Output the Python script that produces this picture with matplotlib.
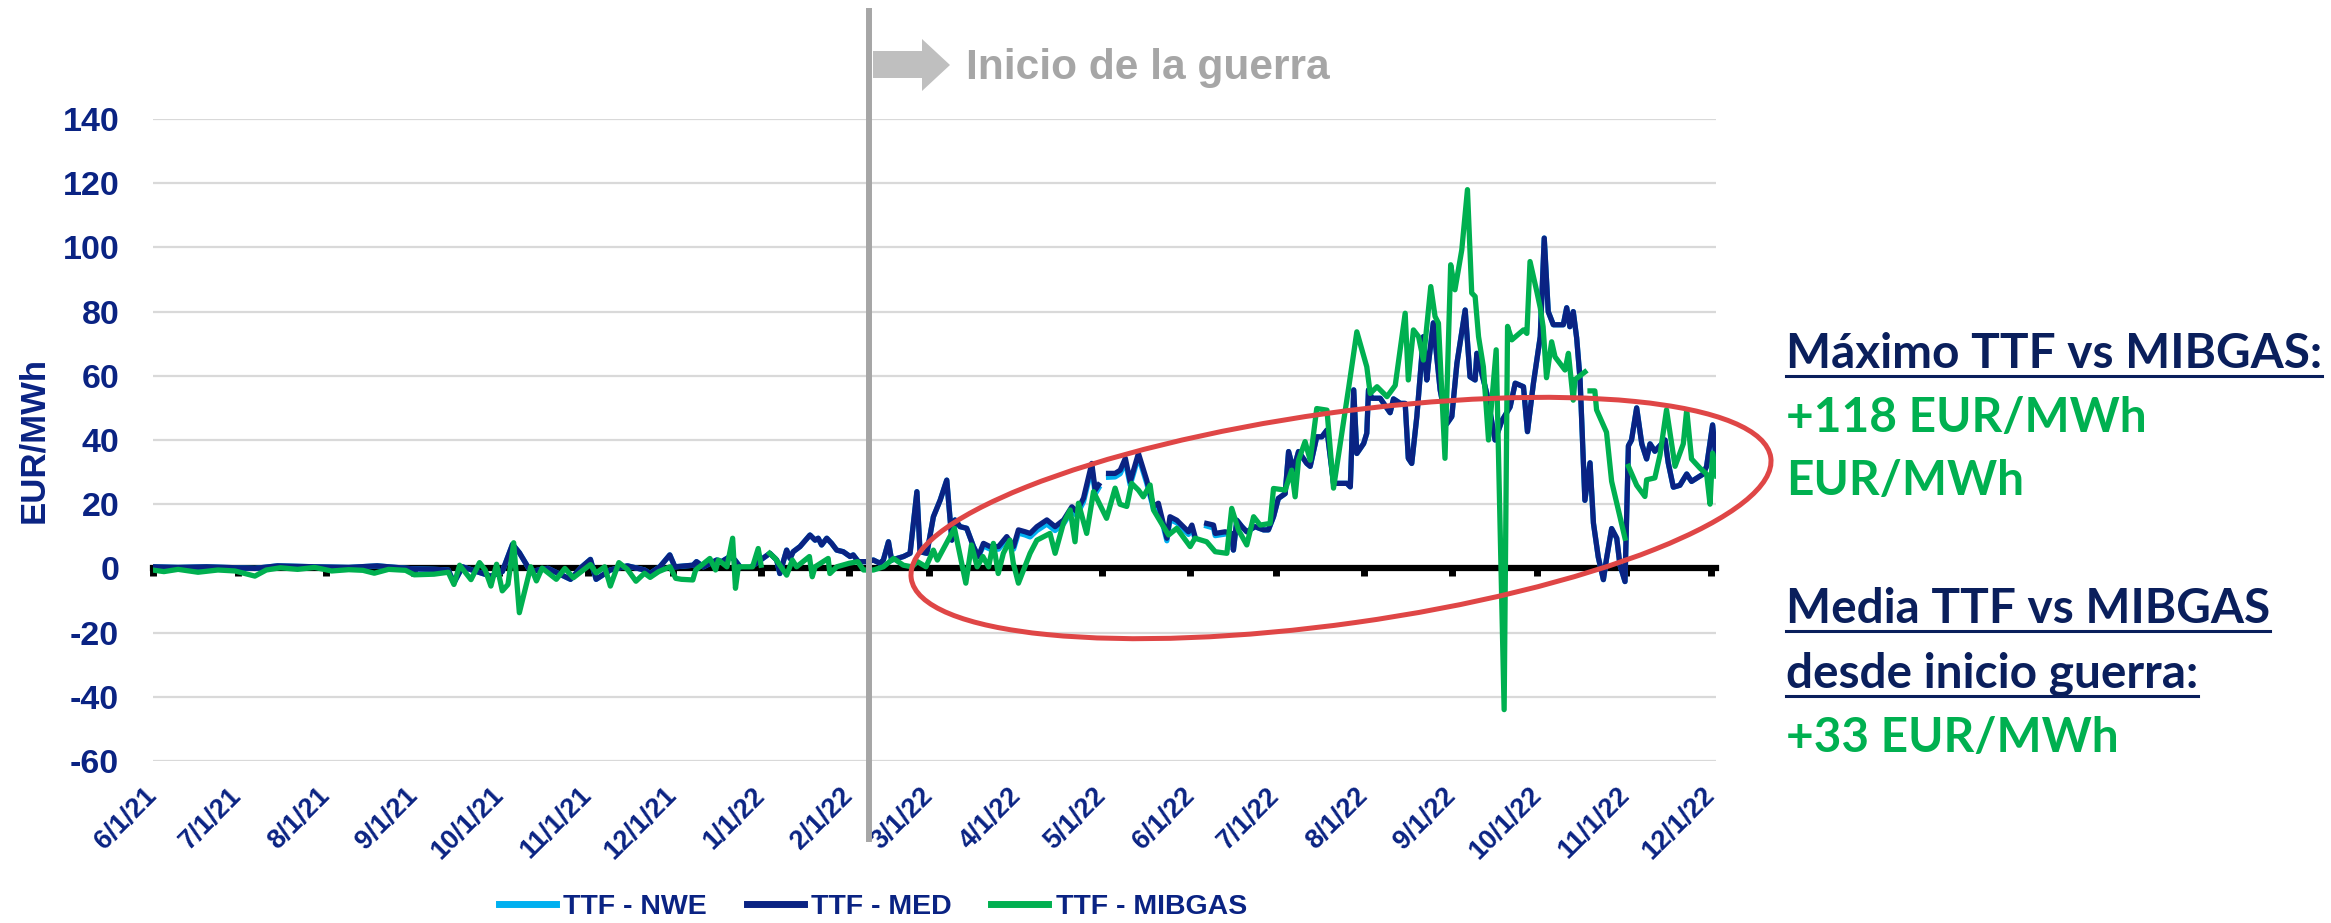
import numpy as np
import matplotlib
matplotlib.use('Agg')
import matplotlib.pyplot as plt
import matplotlib.dates as mdates
from matplotlib.patches import Ellipse, Polygon
from matplotlib.lines import Line2D
from matplotlib.transforms import Affine2D

nan = np.nan

# days counted from 2021-05-31
mib_day = [1, 5, 10, 17, 24, 30, 37, 41, 46, 52, 58, 64, 70, 75, 79, 84, 90, 93, 100, 105,
           107, 109, 113, 116, 118, 120, 122, 124, 126, 128, 130, 134, 136, 138, 143, 146, 149, 155, 157, 160,
           162, 165, 168, 171, 174, 176, 179, 183, 185, 187, 191, 192, 197, 199, 200, 203, 205, 206, 207, 212,
           214, 215, 216.5, 218, 220, 224, 226, 227.5, 232, 233, 234, 238.6, 239.2, 241.6, 246, 249, 251, 254.5, 258, 261.6,
           265, 268, 270, 273, 275.6, 277, 283, 287, 289, 291, 293, 295, 296.7, 298.4, 300.2, 302.5, 303.7, 305.5, 309.6, 312,
           316.6, 318.4, 321.3, 323.7, 325.4, 326.6, 329.5, 331.9, 336.5, 339.5, 341.2, 343.6, 345.3, 347.7, 349.4, 351.8, 353, 356.5, 358.3, 361.2,
           365.9, 367.6, 371.7, 374.7, 378.8, 380.5, 382.9, 385.8, 388.2, 390.5, 394, 395.2, 399.3, 401.6, 402.8, 404, 406.3, 408.1, 410.4, 414,
           416.3, 421.6, 424.5, 428, 429.2, 431.6, 435.1, 438, 441.5, 442.6, 444.4, 446.2, 447.9, 450.5, 452, 453.2, 455.5, 457.5, 459, 461.4,
           463.4, 464.9, 466.1, 467.3, 469, 470.8, 472, 473.5, 476.3, 477.5, 479, 483.1, 484.3, 485.4, 487.8, 489, 490, 491.2, 493, 494.2,
           497.7, 498.9, 500.6, 501.2, 504.7, 505.5, 506.5, 508.2, 508.8, 512.3, 514.1, 518.8, 519.4, 520, 522.9, 525.8, 526.4, 529.3, 531.1, 533.4,
           534.6, 536.4, 539.3, 540.5, 542.2, 545.2, 547.5, 548.7, 549.6, 551]
mib_val = [-0.5, -1.0, -0.3, -1.2, -0.5, -0.8, -2.4, -0.5, 0.2, -0.3, 0.3, -0.8, -0.4, -0.6, -1.5, -0.3, -0.6, -2.0, -1.8, -1.2,
           -5.0, 1.0, -3.5, 1.8, -0.5, -5.5, 1.3, -7.0, -5.0, 8.0, -13.8, 0.5, -3.9, 0.1, -3.4, 0.0, -2.9, 1.2, -1.4, 0.5,
           -5.5, 1.8, -0.3, -4.0, -1.5, -2.8, -1.0, 0.5, -3.1, -3.4, -3.6, -0.5, 3.1, -0.5, 2.6, 0.5, 9.4, -6.2, 0.5, 0.5,
           6.2, 1.0, nan, 4.7, 3.1, -2.1, 2.6, 0.5, 3.7, -2.6, 0.5, 3.1, -1.6, 0.5, 1.6, 2.1, -0.5, -0.5, 0.5, 3.1,
           1.0, 0.5, 2.1, 0.5, 5.7, 2.6, 12.5, -4.6, 7.3, 0.5, 3.7, 0.5, 7.8, -1.6, 4.7, 8.8, 1.6, -4.6, 4.7, 8.8,
           10.9, 4.7, 14.0, 18.2, 8.3, 20.3, 10.9, 23.9, 15.6, 25.0, 20.0, 19.3, 26.5, 24.4, 22.3, 26.0, 18.2, 13.0, 10.4, 12.5,
           6.8, 9.4, 8.3, 5.2, 4.7, 18.7, 11.9, 7.3, 16.1, 13.5, 14.0, 24.9, 24.4, 30.6, 22.3, 33.7, 39.5, 33.7, 49.8, 49.3,
           25.0, 56.1, 73.7, 62.8, 54.5, 56.6, 53.5, 57.0, 79.5, 58.7, 74.3, 72.2, 64.9, 87.8, 78.5, 76.4, 34.3, 94.6, 86.8, 99.2,
           118.0, 85.8, 84.7, 72.2, 62.8, 40.0, 52.6, 68.1, -44.0, 75.4, 71.2, 74.3, 73.2, 95.6, 86.2, 81.2, 75.3, 59.4, 70.6, 65.9,
           61.8, 67.0, 52.4, 58.8, 61.2, nan, 55.3, 55.3, 49.4, 42.4, 27.1, 9.4, nan, 31.8, 25.9, 22.4, 27.6, 28.2, 35.3, 49.4,
           42.4, 31.8, 38.8, 49.4, 34.1, 31.2, 29.4, 20.0, 35.9, 28.8]

med_day = [1, 10, 20, 30, 37, 45, 58, 70, 80, 92, 100, 105, 107, 110, 115, 120, 124, 127.6, 130, 134,
           140, 148, 152, 155, 157, 162, 168, 174, 176, 179.4, 182.9, 184.7, 191.1, 192.3, 194.7, 199.4, 201.1, 204.1, 205.8, 207.6,
           210, 212.3, 218.1, 220.5, 221.6, 224, 225.2, 226.3, 228.7, 232.2, 234, 235.1, 236.3, 238.1, 239.8, 241.6, 243.9, 246.3, 247.4, 249.2,
           252.1, 254.5, 256.8, 258, 259.8, 260.9, 265.1, 267.4, 269.8, 270.9, 273.3, 275.6, 278, 280.3, 282.1, 283.2, 285, 287.3, 289.7, 291.4,
           293.2, 295.5, 298.5, 301.4, 303.8, 305.5, 307.9, 309.6, 312, 315.5, 318.4, 321.4, 324.3, 326, 328.4, 331.3, 332.5, 333.7, 335.5, 337.2,
           339.5, 341.3, 343.1, 344.8, 347.7, 350.6, 353, 354.7, 357.7, 358.8, 361.2, 363.5, 365.3, 366.5, 367.6, 369.5, 371.7, 374.1, 374.7, 378.2,
           380.5, 381.1, 382.3, 384.1, 385.8, 388.7, 391.7, 393.4, 395.2, 396.9, 399.3, 400.5, 402.2, 404, 406.9, 408.1, 410.4, 412.2, 414, 416.3,
           421, 422.2, 423.4, 424.5, 426.9, 428, 428.6, 429.8, 432.7, 436.2, 437.4, 439.8, 441.5, 442.6, 443.8, 445.6, 447.9, 449.1, 449.7, 451.4,
           453.8, 456.1, 457.9, 459.7, 462.6, 464.3, 466.1, 466.7, 470.2, 473.1, 475.5, 478.4, 480.2, 483.1, 484.5, 486.6, 489, 490.4, 491.8, 493.6,
           497.1, 498.3, 499.4, 500.6, 501.8, 503, 504.7, 506.5, 507.7, 509.4, 511.2, 512.3, 514.1, 515.9, 517, 518.8, 520, 521.1, 522.9, 524.7,
           526.4, 527.6, 529.3, 532.9, 534, 535.8, 538.1, 540.5, 542.2, 546.3, 547.5, 549.6, 551]
med_val = [0.5, 0.3, 0.5, 0.2, 0.0, 0.8, 0.5, 0.3, 0.8, -0.1, -0.3, -0.5, -4.5, 0.5, -1.0, -2.4, -1.0, 7.5, 4.9, -1.0,
           0.0, -3.4, 0.5, 2.8, -3.4, -0.5, 0.8, -0.5, -1.6, 0.5, 4.2, 0.5, 1.0, 2.1, 0.5, 2.6, 2.1, 3.7, 2.6, 0.5,
           nan, 1.0, 4.7, 2.6, -1.6, 5.7, 3.1, 5.2, 6.8, 10.4, 8.8, 9.4, 7.3, 9.4, 7.8, 5.7, 5.2, 3.7, 4.2, 2.1,
           2.1, 2.6, 1.6, 2.6, 8.3, 2.6, 3.7, 4.7, 23.9, 5.2, 4.7, 16.1, 21.3, 27.5, 8.8, 15.1, 13.0, 12.5, 6.8, 3.7,
           7.8, 6.8, 6.8, 9.9, 6.8, 12.0, 11.4, 10.9, 13.0, 15.1, 13.0, 15.1, 19.2, 17.7, 21.9, 32.7, 24.4, 26.0, nan, 29.6,
           29.6, 30.6, 34.3, 27.0, 35.8, 27.5, 19.3, 20.3, 9.4, 16.1, 15.0, 13.0, 11.4, 13.5, 9.9, nan, 14.0, 13.5, 10.9, 11.4,
           10.9, 5.7, 15.0, 13.0, 11.4, 13.0, 12.0, 12.0, 16.1, 21.8, 23.3, 36.4, 30.6, 36.4, 32.7, 31.8, 41.0, 41.0, 43.1, 26.5,
           26.5, 25.4, 55.6, 35.8, 38.9, 42.1, 55.6, 53.0, 53.0, 48.5, 52.8, 51.4, 51.4, 34.3, 32.7, 47.3, 72.2, 58.7, 63.9, 76.5,
           55.6, 45.0, 47.3, 63.9, 80.5, 59.7, 58.7, 67.0, 54.5, 40.0, 46.0, 50.3, 57.7, 56.6, 42.6, 57.7, 72.2, 102.9, 80.0, 75.9,
           75.9, 81.2, 75.3, 80.0, 71.8, 58.8, 21.2, 32.9, 14.1, 3.5, -3.5, 3.0, 12.4, 9.4, 1.2, -4.1, 38.2, 40.0, 50.0, 38.8,
           34.1, 38.8, 36.5, 40.0, 32.9, 25.3, 25.9, 29.4, 27.1, 29.4, 31.8, 44.7, 32.4]
nwe_val = [0.5, 0.3, 0.5, 0.2, 0.0, 0.8, 0.5, 0.3, 0.8, -0.1, -0.3, -0.5, -4.5, 0.5, -1.0, -2.4, -1.0, 7.5, 4.9, -1.0,
           0.0, -3.4, 0.5, 2.8, -3.4, -0.5, 0.8, -0.5, -1.6, 0.5, 4.2, 0.5, 1.0, 2.1, 0.5, 2.6, 2.1, 3.7, 2.6, 0.5,
           nan, 1.0, 4.7, 2.6, -1.6, 5.7, 3.1, 5.2, 6.8, 10.4, 8.8, 9.4, 7.3, 9.4, 7.8, 5.7, 5.2, 3.7, 4.2, 2.1,
           2.1, 2.6, 1.6, 2.6, 8.3, 2.6, 3.7, 4.7, 23.9, 5.2, 4.7, 16.1, 21.3, 27.5, 8.8, 15.1, 13.0, 12.5, 6.8, 3.7,
           7.0, 6.0, 6.0, 9.0, 6.0, 11.0, 10.4, 9.8, 11.8, 13.8, 11.8, 13.9, 18.0, 16.5, 20.8, 31.5, 23.2, 25.0, nan, 28.4,
           28.5, 29.5, 33.2, 26.0, 34.8, 26.6, 18.5, 19.3, 8.6, 15.2, 14.2, 12.2, 10.6, 12.6, 9.2, nan, 13.2, 12.6, 10.2, 10.7,
           10.9, 5.7, 15.0, 13.0, 11.4, 13.0, 12.0, 12.0, 16.1, 21.8, 23.3, 36.4, 30.6, 36.4, 32.7, 31.8, 41.0, 41.0, 43.1, 26.5,
           26.5, 25.4, 55.6, 35.8, 38.9, 42.1, 55.6, 53.0, 53.0, 48.5, 52.8, 51.4, 51.4, 34.3, 32.7, 47.3, 72.2, 58.7, 63.9, 76.5,
           55.6, 45.0, 47.3, 63.9, 80.5, 59.7, 58.7, 67.0, 54.5, 40.0, 46.0, 50.3, 57.7, 56.6, 42.6, 57.7, 72.2, 102.9, 80.0, 75.9,
           75.9, 81.2, 75.3, 80.0, 71.8, 58.8, 21.2, 32.9, 14.1, 3.5, -3.5, 3.0, 12.4, 9.4, 1.2, -4.1, 38.2, 40.0, 50.0, 38.8,
           34.1, 38.8, 36.5, 40.0, 32.9, 25.3, 25.9, 29.4, 27.1, 29.4, 31.8, 44.7, 32.4]

tick_dates = ['2021-06-01', '2021-07-01', '2021-08-01', '2021-09-01', '2021-10-01', '2021-11-01',
              '2021-12-01', '2022-01-01', '2022-02-01', '2022-03-01', '2022-04-01', '2022-05-01',
              '2022-06-01', '2022-07-01', '2022-08-01', '2022-09-01', '2022-10-01', '2022-11-01', '2022-12-01']
tick_labels = ['6/1/21', '7/1/21', '8/1/21', '9/1/21', '10/1/21', '11/1/21', '12/1/21', '1/1/22',
               '2/1/22', '3/1/22', '4/1/22', '5/1/22', '6/1/22', '7/1/22', '8/1/22', '9/1/22',
               '10/1/22', '11/1/22', '12/1/22']
war_date = '2022-02-08'
y_ticks = [-60, -40, -20, 0, 20, 40, 60, 80, 100, 120, 140]

side_lines = [('Máximo TTF vs MIBGAS:', 'navy', True),
              ('+118 EUR/MWh', 'green', False),
              ('EUR/MWh', 'green', False),
              ('Media TTF vs MIBGAS', 'navy', True),
              ('desde inicio guerra:', 'navy', True),
              ('+33 EUR/MWh', 'green', False)]
side_baselines = [368, 432, 495, 623, 688, 752]

NAVY = '#0A2383'
TXT_NAVY = '#0A1F5C'
GREEN = '#00B050'
LIGHT = '#00B0F0'
RED = '#DF4646'
GREY = '#A6A6A6'

plt.rcParams['font.family'] = ['Liberation Sans', 'DejaVu Sans']
plt.rcParams['axes.unicode_minus'] = False

W, H = 2331, 923
fig = plt.figure(figsize=(W / 100, H / 100), dpi=100)
px = Affine2D().scale(1 / W, 1 / H) + fig.transFigure  # pixel coords, y up

ax = fig.add_axes([152.5 / W, 1 - 761 / H, (1716 - 152.5) / W, 642 / H])

base = mdates.date2num(np.datetime64('2021-05-31'))
ax.plot(base + np.array(med_day), nwe_val, color=LIGHT, lw=3.8, label='TTF - NWE', zorder=3)
ax.plot(base + np.array(med_day), med_val, color=NAVY, lw=3.8, label='TTF - MED', zorder=4)
ax.plot(base + np.array(mib_day), mib_val, color=GREEN, lw=3.8, label='TTF - MIBGAS', zorder=5)

tick_x = mdates.date2num(np.array(tick_dates, dtype='datetime64[D]'))
ax.set_xlim(tick_x[0], tick_x[0] + 549.8)
ax.set_ylim(-60, 140)
ax.set_yticks(y_ticks)
ax.grid(axis='y', color='#D9D9D9', lw=1.6)
ax.set_axisbelow(True)

for s in ['left', 'right', 'top']:
    ax.spines[s].set_visible(False)
ax.spines['bottom'].set_position(('data', 0))
ax.spines['bottom'].set_linewidth(4.5)
ax.spines['bottom'].set_color('black')
ax.set_xticks(tick_x)
ax.tick_params(axis='x', direction='out', length=6, width=5, color='black', labelbottom=False)
ax.tick_params(axis='y', length=0, pad=24, labelsize=24.5, labelcolor=NAVY)
for lbl in ax.get_yticklabels():
    lbl.set_fontweight('bold')

sec = ax.secondary_xaxis('bottom')
sec.set_xticks(tick_x, labels=tick_labels)
sec.tick_params(length=0, pad=22)
sec.spines['bottom'].set_visible(False)
for lbl in sec.get_xticklabels():
    lbl.set(rotation=45, ha='right', va='center', rotation_mode='anchor',
            fontweight='bold', fontsize=19.5, color=NAVY)

ax.set_ylabel('EUR/MWh', fontsize=25, fontweight='bold', color=NAVY)
ax.yaxis.set_label_coords((50 - 152.5) / 1563.5, 0.5)

# start of war marker
war_x = mdates.date2num(np.datetime64(war_date))
ax.axvline(war_x, ymin=(761 - 839) / 642, ymax=(761 - 11) / 642, color=GREY, lw=4.3,
           clip_on=False, zorder=7)
arrow = [(873, 51), (922, 51), (922, 39), (950, 65), (922, 91), (922, 78), (873, 78)]
fig.add_artist(Polygon([(x, H - y) for x, y in arrow], closed=True, transform=px,
                       facecolor='#BFBFBF', edgecolor='none'))
fig.text(966 / W, 1 - 79 / H, 'Inicio de la guerra', fontsize=30.6, fontweight='bold',
         color=GREY, va='baseline', ha='left')

fig.add_artist(Ellipse((1341, H - 518), 868, 211, angle=8, transform=px,
                       fill=False, edgecolor=RED, lw=3.6))

leg = ax.legend(loc='center', bbox_to_anchor=(873 / W, 1 - 907 / H), bbox_transform=fig.transFigure,
                ncol=3, frameon=False, prop=dict(weight='bold', size=20.5),
                handlelength=2.0, handletextpad=0.25, columnspacing=1.4)
for t in leg.get_texts():
    t.set_color(NAVY)
for h in leg.get_lines():
    h.set_linewidth(5)

colors = {'navy': TXT_NAVY, 'green': GREEN}
side_texts = []
for (txt, col, under), yb in zip(side_lines, side_baselines):
    t = fig.text(1786 / W, 1 - yb / H, txt, fontsize=34.4, fontweight='bold',
                 family=['Lato', 'DejaVu Sans'], color=colors[col], va='baseline', ha='left')
    side_texts.append((t, under, yb))

fig.canvas.draw()
for t, under, yb in side_texts:
    if under:
        bb = t.get_window_extent()
        fig.add_artist(Line2D([bb.x0, bb.x1], [H - yb - 8, H - yb - 8], transform=px,
                              color=TXT_NAVY, lw=2.2))

fig.savefig('out.png', dpi=100)
